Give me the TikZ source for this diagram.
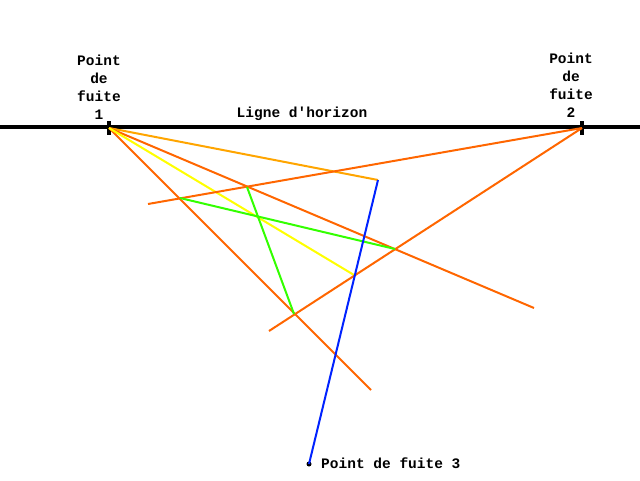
\documentclass[tikz,border=0pt]{standalone}
\usepackage{fontspec}
\setmonofont{Liberation Mono}
\usetikzlibrary{arrows}
\definecolor{darkorange}{RGB}{255,102,0}
\definecolor{lightorange}{RGB}{255,165,0}
\definecolor{brightyellow}{RGB}{255,255,0}
\definecolor{brightgreen}{RGB}{51,255,0}
\definecolor{rayblue}{RGB}{0,34,255}

\begin{document}
\begin{tikzpicture}[x=1pt, y=-1pt,
    horizon/.style={line width=4pt},
    vptick/.style={line width=4pt},
    ray/.style={line width=2pt},
    dot/.style={circle, fill=black, inner sep=0pt, minimum size=5pt},
    vplabel/.style={font=\ttfamily\bfseries\fontsize{14.5}{18}\selectfont, align=center, inner sep=0pt}
]
\useasboundingbox (0,0) rectangle (640,480);

% Vanishing points
\coordinate (vp1) at (109,128);
\coordinate (vp2) at (582,128);
\node[dot] (vp3) at (309,464) {};

% Horizon line
\coordinate (hleft) at (0,127);
\coordinate (hright) at (640,127);
\draw[horizon] (hleft) -- (hright);
\coordinate (vp1top) at (109,121);
\coordinate (vp1bot) at (109,135);
\coordinate (vp2top) at (582,121);
\coordinate (vp2bot) at (582,135);
\draw[vptick] (vp1top) -- (vp1bot);
\draw[vptick] (vp2top) -- (vp2bot);

% Labels
\node[vplabel] (lvp1) at (99,87) {Point\\de\\fuite\\1};
\node[vplabel] (lvp2) at (571,85) {Point\\de\\fuite\\2};
\node[vplabel] (lhor) at (302,114) {Ligne d'horizon};
\node[vplabel, anchor=west] (lvp3) at (321,463) {Point de fuite 3};

% Ends of the rays
\coordinate (top) at (378,180);
\coordinate (e1) at (534,308);
\coordinate (e2) at (371,390);
\coordinate (e3) at (354,275);
\coordinate (e4) at (148,204);
\coordinate (e5) at (269,331);

% Corners
\coordinate (c1) at (247,187);
\coordinate (c2) at (294,314);
\coordinate (c3) at (180,198);
\coordinate (c4) at (395,249);

% Rays from the vanishing points
\draw[ray, lightorange] (vp1) -- (top);
\draw[ray, darkorange] (vp1) -- (e1);
\draw[ray, darkorange] (vp1) -- (e2);
\draw[ray, brightyellow] (vp1) -- (e3);
\draw[ray, darkorange] (vp2) -- (e4);
\draw[ray, darkorange] (vp2) -- (e5);

% Edges
\draw[ray, brightgreen] (c1) -- (c2);
\draw[ray, brightgreen] (c3) -- (c4);
\draw[ray, rayblue] (top) -- (vp3.center);

\end{tikzpicture}
\end{document}
